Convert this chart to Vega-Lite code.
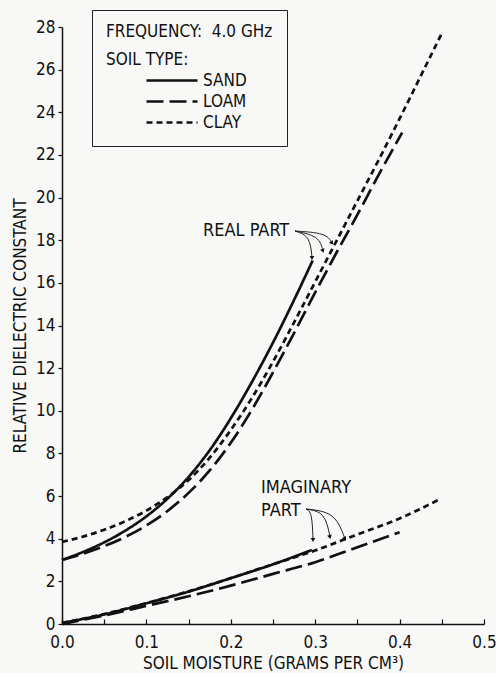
{
  "$schema": "https://vega.github.io/schema/vega-lite/v6.json",
  "width": 422,
  "height": 597,
  "autosize": "none",
  "padding": {"left": 62, "top": 27, "right": 12, "bottom": 49},
  "background": "#f8f8f6",
  "config": {
    "font": "DejaVu Sans Condensed, sans-serif",
    "view": {"stroke": null},
    "axis": {"grid": false, "domainColor": "#111", "tickColor": "#111", "labelColor": "#111", "titleColor": "#111", "labelFont": "DejaVu Sans Condensed, sans-serif", "titleFont": "DejaVu Sans Condensed, sans-serif", "labelFontSize": 17, "titleFontSize": 17, "titleFontWeight": "normal", "domainWidth": 1.5, "tickWidth": 1.2}
  },
  "datasets": {
    "curves": [
      {"soil": "SAND", "part": "real", "x": 0, "y": 3.0},
      {"soil": "SAND", "part": "real", "x": 0.025, "y": 3.38},
      {"soil": "SAND", "part": "real", "x": 0.05, "y": 3.83},
      {"soil": "SAND", "part": "real", "x": 0.075, "y": 4.38},
      {"soil": "SAND", "part": "real", "x": 0.1, "y": 5.05},
      {"soil": "SAND", "part": "real", "x": 0.125, "y": 5.88},
      {"soil": "SAND", "part": "real", "x": 0.15, "y": 6.9},
      {"soil": "SAND", "part": "real", "x": 0.175, "y": 8.15},
      {"soil": "SAND", "part": "real", "x": 0.2, "y": 9.65},
      {"soil": "SAND", "part": "real", "x": 0.225, "y": 11.35},
      {"soil": "SAND", "part": "real", "x": 0.25, "y": 13.2},
      {"soil": "SAND", "part": "real", "x": 0.275, "y": 15.2},
      {"soil": "SAND", "part": "real", "x": 0.297, "y": 17.05},
      {"soil": "LOAM", "part": "real", "x": 0, "y": 3.0},
      {"soil": "LOAM", "part": "real", "x": 0.025, "y": 3.3},
      {"soil": "LOAM", "part": "real", "x": 0.05, "y": 3.65},
      {"soil": "LOAM", "part": "real", "x": 0.075, "y": 4.08},
      {"soil": "LOAM", "part": "real", "x": 0.1, "y": 4.62},
      {"soil": "LOAM", "part": "real", "x": 0.125, "y": 5.3},
      {"soil": "LOAM", "part": "real", "x": 0.15, "y": 6.15},
      {"soil": "LOAM", "part": "real", "x": 0.175, "y": 7.2},
      {"soil": "LOAM", "part": "real", "x": 0.2, "y": 8.5},
      {"soil": "LOAM", "part": "real", "x": 0.225, "y": 10.05},
      {"soil": "LOAM", "part": "real", "x": 0.25, "y": 11.8},
      {"soil": "LOAM", "part": "real", "x": 0.275, "y": 13.65},
      {"soil": "LOAM", "part": "real", "x": 0.3, "y": 15.55},
      {"soil": "LOAM", "part": "real", "x": 0.325, "y": 17.4},
      {"soil": "LOAM", "part": "real", "x": 0.35, "y": 19.2},
      {"soil": "LOAM", "part": "real", "x": 0.375, "y": 21.05},
      {"soil": "LOAM", "part": "real", "x": 0.403, "y": 23.05},
      {"soil": "CLAY", "part": "real", "x": 0, "y": 3.85},
      {"soil": "CLAY", "part": "real", "x": 0.025, "y": 4.1},
      {"soil": "CLAY", "part": "real", "x": 0.05, "y": 4.42},
      {"soil": "CLAY", "part": "real", "x": 0.075, "y": 4.82},
      {"soil": "CLAY", "part": "real", "x": 0.1, "y": 5.32},
      {"soil": "CLAY", "part": "real", "x": 0.125, "y": 5.95},
      {"soil": "CLAY", "part": "real", "x": 0.15, "y": 6.75},
      {"soil": "CLAY", "part": "real", "x": 0.175, "y": 7.8},
      {"soil": "CLAY", "part": "real", "x": 0.2, "y": 9.1},
      {"soil": "CLAY", "part": "real", "x": 0.225, "y": 10.6},
      {"soil": "CLAY", "part": "real", "x": 0.25, "y": 12.3},
      {"soil": "CLAY", "part": "real", "x": 0.275, "y": 14.15},
      {"soil": "CLAY", "part": "real", "x": 0.3, "y": 16.05},
      {"soil": "CLAY", "part": "real", "x": 0.325, "y": 17.95},
      {"soil": "CLAY", "part": "real", "x": 0.35, "y": 19.85},
      {"soil": "CLAY", "part": "real", "x": 0.375, "y": 21.75},
      {"soil": "CLAY", "part": "real", "x": 0.4, "y": 23.7},
      {"soil": "CLAY", "part": "real", "x": 0.425, "y": 25.7},
      {"soil": "CLAY", "part": "real", "x": 0.45, "y": 27.7},
      {"soil": "SAND", "part": "imag", "x": 0, "y": 0.05},
      {"soil": "SAND", "part": "imag", "x": 0.05, "y": 0.45},
      {"soil": "SAND", "part": "imag", "x": 0.1, "y": 0.97},
      {"soil": "SAND", "part": "imag", "x": 0.15, "y": 1.52},
      {"soil": "SAND", "part": "imag", "x": 0.2, "y": 2.15},
      {"soil": "SAND", "part": "imag", "x": 0.25, "y": 2.8},
      {"soil": "SAND", "part": "imag", "x": 0.296, "y": 3.47},
      {"soil": "LOAM", "part": "imag", "x": 0, "y": 0.0},
      {"soil": "LOAM", "part": "imag", "x": 0.05, "y": 0.4},
      {"soil": "LOAM", "part": "imag", "x": 0.1, "y": 0.85},
      {"soil": "LOAM", "part": "imag", "x": 0.15, "y": 1.3},
      {"soil": "LOAM", "part": "imag", "x": 0.2, "y": 1.8},
      {"soil": "LOAM", "part": "imag", "x": 0.25, "y": 2.35},
      {"soil": "LOAM", "part": "imag", "x": 0.3, "y": 2.9},
      {"soil": "LOAM", "part": "imag", "x": 0.35, "y": 3.6},
      {"soil": "LOAM", "part": "imag", "x": 0.4, "y": 4.3},
      {"soil": "CLAY", "part": "imag", "x": 0, "y": 0.05},
      {"soil": "CLAY", "part": "imag", "x": 0.05, "y": 0.47},
      {"soil": "CLAY", "part": "imag", "x": 0.1, "y": 0.98},
      {"soil": "CLAY", "part": "imag", "x": 0.15, "y": 1.53},
      {"soil": "CLAY", "part": "imag", "x": 0.2, "y": 2.15},
      {"soil": "CLAY", "part": "imag", "x": 0.25, "y": 2.8},
      {"soil": "CLAY", "part": "imag", "x": 0.3, "y": 3.45},
      {"soil": "CLAY", "part": "imag", "x": 0.35, "y": 4.2},
      {"soil": "CLAY", "part": "imag", "x": 0.4, "y": 4.95},
      {"soil": "CLAY", "part": "imag", "x": 0.448, "y": 5.86}
    ],
    "arrows": [
      {"arrow": "r1", "x": 0.2761, "y": 18.43},
      {"arrow": "r1", "x": 0.2938, "y": 18.2},
      {"arrow": "r1", "x": 0.2962, "y": 17.17},
      {"arrow": "r2", "x": 0.2761, "y": 18.43},
      {"arrow": "r2", "x": 0.3045, "y": 18.2},
      {"arrow": "r2", "x": 0.3092, "y": 17.5},
      {"arrow": "r3", "x": 0.2761, "y": 18.43},
      {"arrow": "r3", "x": 0.3128, "y": 18.34},
      {"arrow": "r3", "x": 0.3199, "y": 17.87},
      {"arrow": "i1", "x": 0.2891, "y": 5.39},
      {"arrow": "i1", "x": 0.2962, "y": 5.25},
      {"arrow": "i1", "x": 0.2974, "y": 3.94},
      {"arrow": "i2", "x": 0.2891, "y": 5.39},
      {"arrow": "i2", "x": 0.3116, "y": 5.25},
      {"arrow": "i2", "x": 0.3175, "y": 4.08},
      {"arrow": "i3", "x": 0.2891, "y": 5.39},
      {"arrow": "i3", "x": 0.3235, "y": 5.25},
      {"arrow": "i3", "x": 0.3353, "y": 3.99}
    ],
    "heads": [
      {"x": 0.2962, "y": 17.17, "angle": 180},
      {"x": 0.3092, "y": 17.5, "angle": 160},
      {"x": 0.3199, "y": 17.87, "angle": 140},
      {"x": 0.2974, "y": 3.94, "angle": 180},
      {"x": 0.3175, "y": 4.08, "angle": 165},
      {"x": 0.3353, "y": 3.99, "angle": 150}
    ],
    "labels": [
      {"text": "REAL PART", "x": 0.1671, "y": 18.43},
      {"text": "IMAGINARY", "x": 0.2358, "y": 6.38},
      {"text": "PART", "x": 0.2358, "y": 5.3}
    ]
  },
  "layer": [
    {
      "data": {"name": "curves"},
      "mark": {"type": "line", "interpolate": "monotone", "strokeWidth": 2.7, "color": "#111"},
      "encoding": {
        "x": {"field": "x", "type": "quantitative", "scale": {"domain": [0, 0.5], "nice": false},
          "axis": {"title": "SOIL MOISTURE (GRAMS PER CM³)", "values": [0, 0.05, 0.1, 0.15, 0.2, 0.25, 0.3, 0.35, 0.4, 0.45, 0.5],
            "labelExpr": "round(datum.value*100) % 10 == 0 ? format(datum.value, '.1f') : ''", "tickSize": -5, "labelPadding": 15, "titlePadding": 5, "labelFlush": false}},
        "y": {"field": "y", "type": "quantitative", "scale": {"domain": [0, 28], "nice": false},
          "axis": {"title": "RELATIVE DIELECTRIC CONSTANT", "values": [0, 2, 4, 6, 8, 10, 12, 14, 16, 18, 20, 22, 24, 26, 28], "tickSize": 4, "labelPadding": 3, "titlePadding": 6, "labelFlush": false}},
        "strokeDash": {"field": "soil", "type": "nominal",
          "scale": {"domain": ["SAND", "LOAM", "CLAY"], "range": [[1, 0], [17, 6], [6, 4]]},
          "legend": {"orient": "none", "legendX": 30, "legendY": -17, "title": ["FREQUENCY:\u00a0 4.0 GHz", "SOIL TYPE:"],
            "titleFontSize": 17, "titleFontWeight": "normal", "titleLineHeight": 28, "titleColor": "#111", "titlePadding": 2,
            "labelFontSize": 17, "labelColor": "#111", "labelOffset": 4, "clipHeight": 19,
            "symbolType": "stroke", "symbolSize": 2601, "symbolStrokeWidth": 2.7, "symbolStrokeColor": "#111", "symbolOffset": 39,
            "rowPadding": 2, "padding": 14, "strokeColor": "#222", "fillColor": "#f8f8f6", "cornerRadius": 0, "labelFont": "DejaVu Sans Condensed, sans-serif", "titleFont": "DejaVu Sans Condensed, sans-serif"}},
        "detail": {"field": "part", "type": "nominal"}
      }
    },
    {
      "data": {"name": "arrows"},
      "mark": {"type": "line", "interpolate": "basis", "strokeWidth": 1, "color": "#222"},
      "encoding": {
        "x": {"field": "x", "type": "quantitative"},
        "y": {"field": "y", "type": "quantitative"},
        "detail": {"field": "arrow", "type": "nominal"}
      }
    },
    {
      "data": {"name": "heads"},
      "mark": {"type": "point", "shape": "triangle-up", "filled": true, "size": 22, "color": "#111", "opacity": 1},
      "encoding": {
        "x": {"field": "x", "type": "quantitative"},
        "y": {"field": "y", "type": "quantitative"},
        "angle": {"field": "angle", "type": "quantitative", "scale": null}
      }
    },
    {
      "data": {"name": "labels"},
      "mark": {"type": "text", "fontSize": 18, "color": "#111", "baseline": "middle", "align": "left"},
      "encoding": {
        "x": {"field": "x", "type": "quantitative"},
        "y": {"field": "y", "type": "quantitative"},
        "text": {"field": "text"}
      }
    }
  ]
}
